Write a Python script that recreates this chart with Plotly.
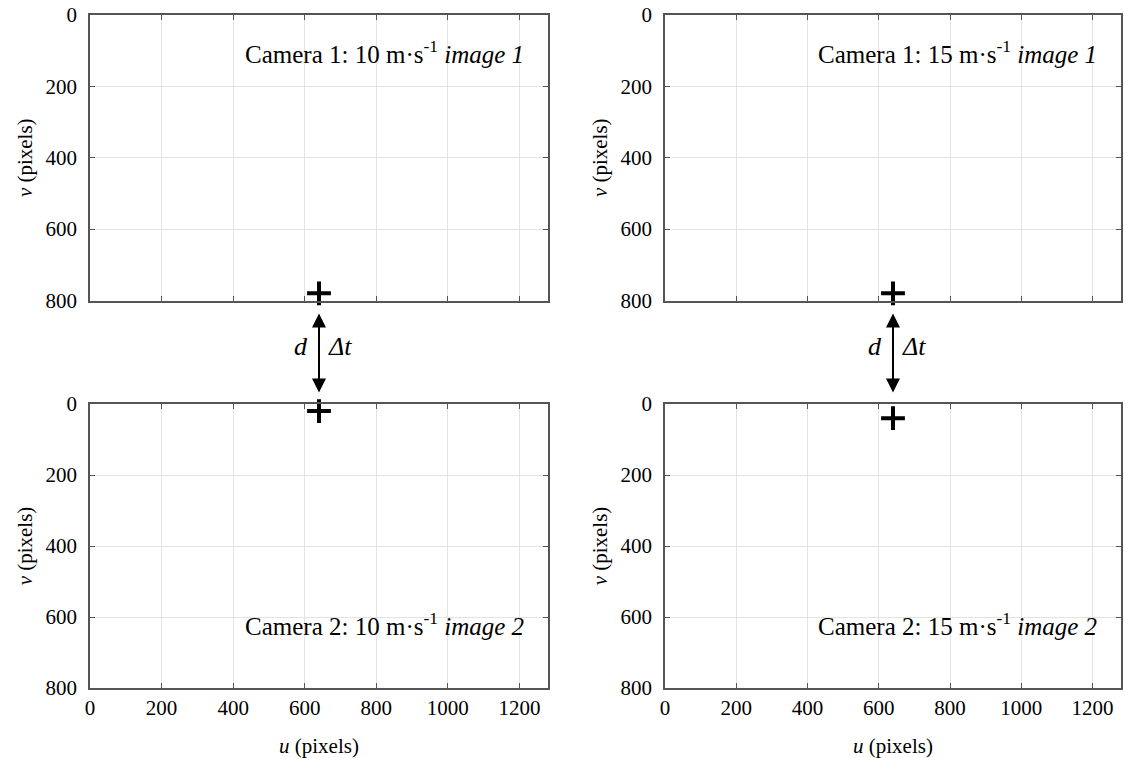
import plotly.graph_objects as go

# ---- data ----
speeds = ["10", "15"]
marker_u = [640, 640, 640, 640]          # top-left, top-right, bottom-left, bottom-right
marker_v = [780, 780, 20, 40]
x_ticks = [0, 200, 400, 600, 800, 1000, 1200]
y_ticks = [0, 200, 400, 600, 800]
u_range = [0, 1280]
v_range = [800, 0]

FONT = "Liberation Serif, Times New Roman, serif"
AX = "#555555"
GRID = "#e3e3e3"

fig = go.Figure()

W, H = 1124, 758
ml, mr, mt, mb = 90, 3, 15, 70
pw, ph = W - ml - mr, H - mt - mb
xdom = [[0, (548 - ml) / pw], [(665 - ml) / pw, 1]]
ydom_top = [(688 - 300.5) / ph, 1]
ydom_bot = [0, (688 - 404) / ph]

panels = [
    (0, ydom_top, True),   # top-left
    (1, ydom_top, True),   # top-right
    (0, ydom_bot, False),  # bottom-left
    (1, ydom_bot, False),  # bottom-right
]

layout = {}
for i, (col, ydom, is_top) in enumerate(panels):
    n = i + 1
    xs = "" if n == 1 else str(n)
    fig.add_trace(go.Scatter(
        x=[marker_u[i]], y=[marker_v[i]], mode="markers",
        xaxis="x" + xs, yaxis="y" + xs, showlegend=False, cliponaxis=False,
        marker=dict(symbol="cross-thin", size=17, color="black",
                    line=dict(color="black", width=4)),
        hoverinfo="skip"))
    layout["xaxis" + xs] = dict(
        domain=xdom[col], anchor="y" + xs, range=u_range, tickvals=x_ticks,
        showticklabels=not is_top, ticks="inside", ticklen=5, tickcolor=AX,
        mirror="ticks", showline=True, linecolor=AX, linewidth=1.5,
        showgrid=True, gridcolor=GRID, gridwidth=1, zeroline=False,
        tickfont=dict(family=FONT, size=21, color="black"),
        title=dict(text="" if is_top else "<i>u</i> (pixels)",
                   font=dict(family=FONT, size=21, color="black"), standoff=20),
        automargin=False)
    layout["yaxis" + xs] = dict(
        domain=ydom, anchor="x" + xs, range=v_range, tickvals=y_ticks,
        ticks="inside", ticklen=5, tickcolor=AX,
        mirror="ticks", showline=True, linecolor=AX, linewidth=1.5,
        showgrid=True, gridcolor=GRID, gridwidth=1, zeroline=False,
        tickfont=dict(family=FONT, size=21, color="black"),
        ticklabelstandoff=7,
        title=dict(text="<i>v</i> (pixels)",
                   font=dict(family=FONT, size=21, color="black"), standoff=7),
        automargin=False)

annotations = []
for col in range(2):
    xs_top = "" if col == 0 else "2"
    xs_bot = str(3 + col)
    # camera labels
    annotations.append(dict(
        xref="x" + xs_top + " domain", yref="y" + xs_top + " domain",
        x=0.952, y=0.87, xanchor="right", yanchor="middle", showarrow=False,
        text=f"Camera 1: {speeds[col]} m·s<sup>-1</sup> <i>image 1</i>",
        font=dict(family=FONT, size=25, color="black")))
    annotations.append(dict(
        xref="x" + xs_bot + " domain", yref="y" + xs_bot + " domain",
        x=0.952, y=0.225, xanchor="right", yanchor="middle", showarrow=False,
        text=f"Camera 2: {speeds[col]} m·s<sup>-1</sup> <i>image 2</i>",
        font=dict(family=FONT, size=25, color="black")))
    # double arrow between panels (top-panel domain coordinates)
    xr = "x" + xs_top
    yr = "y" + xs_top + " domain"
    annotations.append(dict(
        xref=xr, yref=yr, axref=xr, ayref=yr,
        x=marker_u[col], y=-0.322, ax=marker_u[col], ay=-0.04,
        text="", showarrow=True, arrowhead=2, startarrowhead=2,
        arrowside="end+start", arrowsize=1.4, startarrowsize=1.4,
        arrowwidth=2, arrowcolor="black"))
    annotations.append(dict(
        xref=xr, yref=yr, x=marker_u[col], y=-0.18, xshift=-18, yshift=-11,
        showarrow=False,
        text="<i>d</i>", font=dict(family=FONT, size=26, color="black")))
    annotations.append(dict(
        xref=xr, yref=yr, x=marker_u[col], y=-0.18, xshift=21, yshift=-11,
        showarrow=False,
        text="<i>Δt</i>", font=dict(family=FONT, size=26, color="black")))

fig.update_layout(
    width=W, height=H,
    margin=dict(l=ml, r=mr, t=mt, b=mb),
    paper_bgcolor="white", plot_bgcolor="white",
    annotations=annotations,
    font=dict(family=FONT),
    **layout)

fig.write_html("out.html")
